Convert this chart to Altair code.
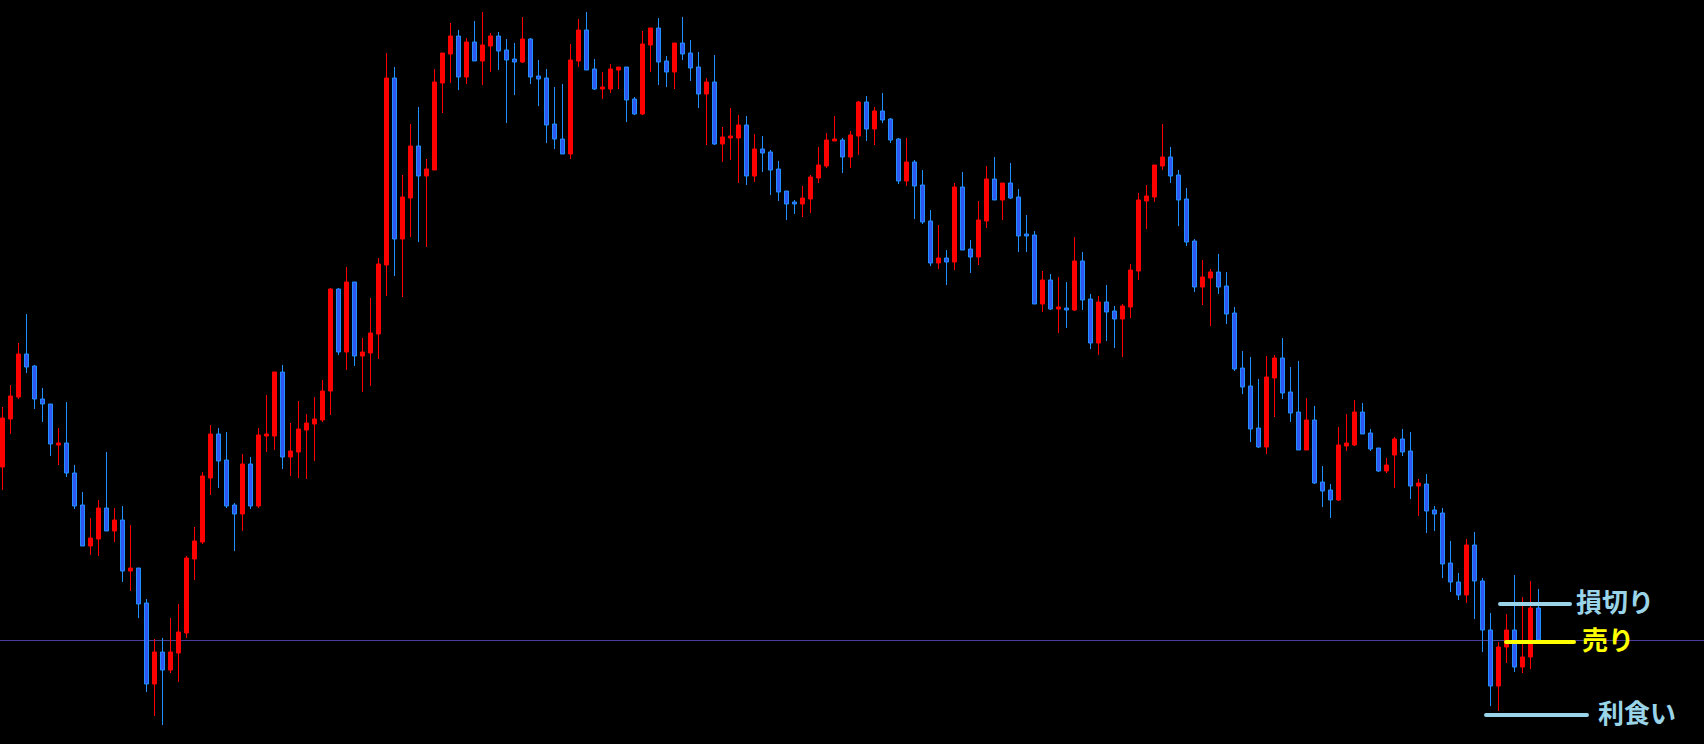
import altair as alt
import pandas as pd
import jinja2

# OHLC values (price units, larger = higher)
opens = [277, 325, 347, 390, 378, 345, 340, 299, 301, 271, 239, 198, 205, 236, 213, 224, 173, 176, 141, 60,
         92, 74, 91, 111, 185, 202, 266, 310, 284, 239, 230, 280, 238, 308, 308, 372, 287, 292, 314, 320,
         324, 353, 455, 392, 462, 388, 391, 410, 479, 666, 505, 546, 598, 568, 574, 661, 690, 708, 667, 702,
         683, 698, 708, 694, 685, 682, 705, 668, 666, 620, 605, 590, 683, 714, 675, 655, 655, 674, 677, 645,
         630, 699, 716, 683, 672, 701, 691, 677, 650, 662, 600, 606, 606, 619, 568, 595, 592, 575, 553, 542,
         540, 545, 566, 578, 603, 604, 587, 608, 642, 615, 633, 625, 605, 563, 582, 559, 523, 481, 486, 482,
         557, 495, 487, 523, 565, 544, 561, 547, 510, 509, 440, 464, 435, 436, 434, 483, 445, 401, 442, 433,
         425, 437, 473, 543, 547, 578, 587, 569, 545, 503, 457, 466, 472, 458, 431, 376, 358, 316, 297, 366,
         386, 352, 332, 294, 324, 262, 254, 244, 298, 299, 332, 311, 296, 273, 289, 305, 293, 258, 260, 234,
         231, 181, 162, 149, 199, 163, 114, 58, 97, 114, 77, 87, 136]
highs = [337, 359, 401, 430, 379, 356, 340, 316, 342, 279, 252, 226, 244, 292, 236, 238, 219, 176, 145, 105,
         106, 126, 140, 188, 217, 272, 319, 316, 312, 241, 290, 287, 316, 349, 372, 379, 321, 343, 330, 347,
         364, 456, 456, 477, 462, 406, 446, 486, 691, 677, 569, 620, 637, 585, 675, 691, 721, 714, 706, 723,
         732, 711, 712, 705, 701, 727, 706, 684, 675, 657, 660, 700, 725, 732, 685, 672, 680, 677, 677, 647,
         713, 716, 726, 688, 701, 727, 704, 692, 666, 689, 617, 636, 629, 628, 610, 608, 594, 583, 553, 544,
         558, 569, 597, 611, 628, 606, 613, 643, 648, 637, 651, 626, 606, 606, 584, 574, 534, 519, 494, 561,
         572, 504, 543, 578, 587, 561, 581, 555, 529, 513, 473, 470, 467, 462, 507, 492, 450, 448, 459, 438,
         440, 480, 551, 559, 579, 620, 597, 574, 556, 505, 484, 475, 490, 472, 437, 393, 387, 365, 388, 389,
         406, 377, 383, 346, 338, 278, 260, 317, 330, 344, 341, 315, 296, 286, 307, 315, 312, 265, 270, 238,
         236, 203, 171, 205, 212, 166, 131, 102, 130, 169, 147, 163, 155]
lows = [254, 310, 345, 371, 335, 322, 288, 279, 267, 235, 198, 189, 188, 213, 202, 162, 153, 126, 52, 28,
        19, 71, 62, 106, 164, 200, 249, 256, 236, 193, 213, 235, 236, 292, 294, 275, 268, 266, 265, 283,
        322, 329, 389, 374, 378, 352, 358, 385, 448, 468, 447, 507, 502, 497, 574, 631, 661, 654, 660, 683,
        659, 672, 674, 621, 649, 681, 660, 638, 601, 595, 590, 585, 677, 674, 654, 645, 651, 655, 622, 629,
        629, 672, 659, 657, 655, 684, 663, 636, 599, 599, 582, 584, 561, 559, 562, 572, 549, 543, 524, 530,
        527, 531, 561, 576, 603, 571, 576, 589, 603, 599, 621, 601, 560, 558, 525, 520, 478, 475, 459, 474,
        494, 471, 479, 516, 544, 524, 545, 492, 492, 440, 432, 434, 411, 416, 433, 434, 395, 389, 403, 396,
        387, 426, 464, 515, 542, 574, 561, 518, 498, 452, 439, 418, 450, 420, 373, 350, 302, 296, 290, 327,
        345, 322, 294, 294, 260, 237, 226, 243, 293, 298, 310, 293, 272, 271, 256, 288, 245, 228, 211, 213,
        166, 152, 144, 141, 125, 92, 38, 33, 81, 72, 71, 75, 104]
closes = [326, 348, 390, 377, 345, 340, 300, 301, 271, 238, 198, 206, 236, 213, 224, 173, 176, 140, 60, 92,
          74, 92, 112, 186, 203, 268, 310, 283, 238, 230, 280, 238, 309, 310, 372, 287, 293, 315, 321, 325,
          353, 455, 392, 462, 388, 392, 411, 480, 666, 505, 547, 598, 568, 575, 662, 691, 708, 667, 702, 683,
          699, 708, 693, 684, 682, 705, 667, 665, 619, 605, 590, 684, 714, 674, 655, 657, 675, 677, 644, 630,
          700, 716, 682, 672, 701, 690, 676, 650, 662, 600, 607, 608, 619, 568, 595, 591, 574, 552, 540, 540,
          546, 567, 579, 604, 605, 587, 609, 642, 615, 633, 624, 604, 563, 582, 558, 522, 481, 486, 482, 557,
          494, 487, 524, 565, 544, 561, 546, 508, 508, 440, 464, 435, 437, 434, 483, 444, 401, 442, 432, 425,
          438, 474, 544, 548, 579, 587, 568, 544, 502, 457, 467, 472, 457, 430, 375, 357, 315, 297, 367, 386,
          351, 331, 294, 324, 261, 253, 244, 299, 301, 332, 310, 295, 273, 279, 305, 292, 258, 261, 233, 230,
          180, 162, 149, 199, 163, 114, 58, 97, 114, 77, 87, 136, 104]

# reference (entry) price line and the order levels drawn at the right edge
entry_price = [103.5]
level_names = ["損切り", "売り", "利食い"]
level_prices = [140, 102, 29]
level_start = [187.19, 187.94, 185.44]
level_end = [195.94, 196.44, 198.06]
label_start = [196.69, 197.44, 199.44]
level_colors = ["#9ad4e8", "#ffff00", "#9ad4e8"]

df = pd.DataFrame({
    "bar": list(range(len(opens))),
    "open": opens, "high": highs, "low": lows, "close": closes,
})
df["dir"] = ["up" if c >= o else "down" for o, c in zip(opens, closes)]

lv = pd.DataFrame({
    "name": level_names, "price": level_prices, "x0": level_start,
    "x1": level_end, "lx": label_start, "color": level_colors,
})

W, H = 1704, 744
xs = alt.Scale(domain=[-0.3125, 212.6875], nice=False, zero=False, padding=0)
ys = alt.Scale(domain=[0, 744], nice=False, zero=False, padding=0)
fill_scale = alt.Scale(domain=["up", "down"], range=["#ff0000", "#3058f0"])
line_scale = alt.Scale(domain=["up", "down"], range=["#ff0000", "#1e90ff"])

base = alt.Chart(df)

wicks = base.mark_rule(strokeWidth=1).encode(
    x=alt.X("bar:Q", scale=xs, axis=None),
    y=alt.Y("low:Q", scale=ys, axis=None),
    y2="high:Q",
    color=alt.Color("dir:N", scale=line_scale, legend=None),
)

bodies = base.mark_bar(width=4, strokeWidth=1, orient="vertical").encode(
    x=alt.X("bar:Q", scale=xs, axis=None),
    y=alt.Y("open:Q", scale=ys, axis=None),
    y2="close:Q",
    fill=alt.Fill("dir:N", scale=fill_scale, legend=None),
    stroke=alt.Stroke("dir:N", scale=line_scale, legend=None),
)

hline = alt.Chart(pd.DataFrame({"p": entry_price})).mark_rule(
    color="#4a3c9c", strokeWidth=1
).encode(y=alt.Y("p:Q", scale=ys, axis=None))

lvl_lines = alt.Chart(lv).mark_rule(strokeWidth=4, strokeCap="round").encode(
    x=alt.X("x0:Q", scale=xs, axis=None),
    x2="x1:Q",
    y=alt.Y("price:Q", scale=ys, axis=None),
    color=alt.Color("color:N", scale=None),
)

lvl_text = alt.Chart(lv).mark_text(
    align="left", baseline="middle", font="Noto Sans CJK JP",
    fontSize=26, fontWeight="bold",
).encode(
    x=alt.X("lx:Q", scale=xs, axis=None),
    y=alt.Y("price:Q", scale=ys, axis=None),
    text="name:N",
    color=alt.Color("color:N", scale=None),
)

chart = alt.layer(hline, wicks, bodies, lvl_lines, lvl_text).properties(
    width=W, height=H, background="#000000", padding=0,
    autosize=alt.AutoSizeParams(type="none"),
).configure_view(stroke=None, fill="#000000")

PAGE = jinja2.Template("""<!DOCTYPE html>
<html>
<head>
  <meta charset="utf-8">
  <style>
    html, body { margin: 0; padding: 0; background: #000000; overflow: hidden;
                 width: 1704px; height: 744px; }
    #{{ output_div }}, #{{ output_div }}.vega-embed { display: block; width: 1704px; height: 744px;
                 overflow: hidden; line-height: 0; padding: 0; margin: 0; }
    #{{ output_div }} svg { display: block; }
  </style>
  <script type="text/javascript" src="{{ base_url }}/vega@{{ vega_version }}"></script>
  <script type="text/javascript" src="{{ base_url }}/vega-lite@{{ vegalite_version }}"></script>
  <script type="text/javascript" src="{{ base_url }}/vega-embed@{{ vegaembed_version }}"></script>
</head>
<body>
  <div id="{{ output_div }}"></div>
  <script>
    (function(vegaEmbed) {
      var spec = {{ spec }};
      var embedOpt = {{ embed_options }};
      vegaEmbed("#{{ output_div }}", spec, embedOpt);
    })(vegaEmbed);
  </script>
</body>
</html>
""")

chart.save("out.html", embed_options={"renderer": "svg", "actions": False}, template=PAGE)
